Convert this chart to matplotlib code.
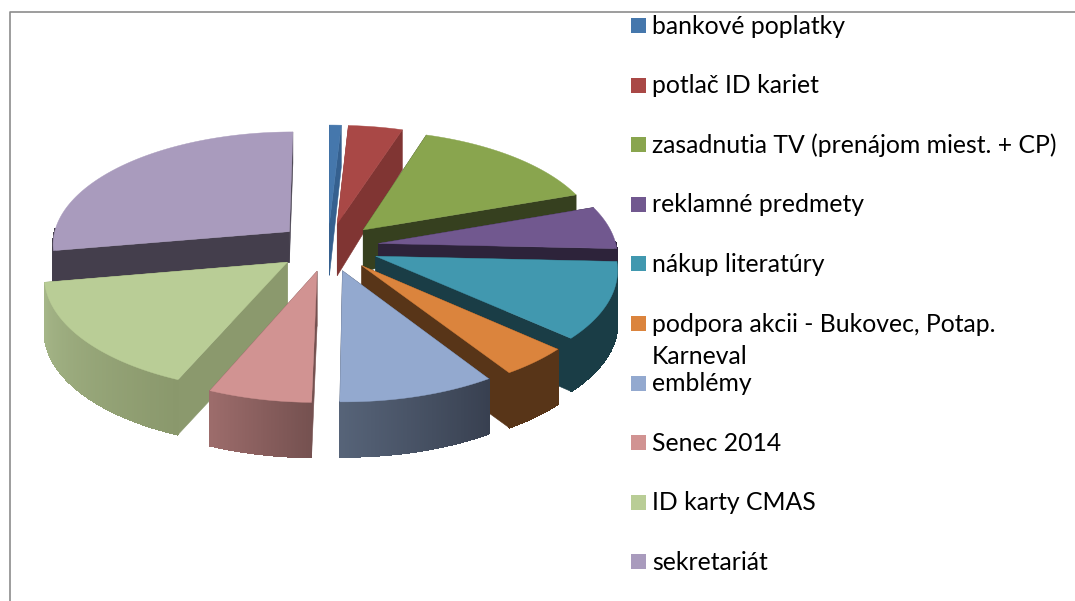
import numpy as np
import matplotlib
matplotlib.use('Agg')
import matplotlib.pyplot as plt
from matplotlib.colors import to_rgb
from matplotlib.patches import Polygon, Rectangle

# Data (percent)
kategorie = ['bankové poplatky', 'potlač ID kariet', 'zasadnutia TV (prenájom miest. + CP)',
             'reklamné predmety', 'nákup literatúry', 'podpora akcii - Bukovec, Potap.\nKarneval',
             'emblémy', 'Senec 2014', 'ID karty CMAS', 'sekretariát']
hodnoty = [0.9, 4.1, 14.6, 6.1, 10.9, 4.2, 9.4, 6.2, 15.8, 27.7]

# Styles per slice
farby = ['#4577AC', '#A94846', '#89A54E', '#71588F', '#4198AF',
         '#DB843D', '#93A9CF', '#D19392', '#B9CD96', '#A99BBD']
farby_steny = ['#35608F', '#803533', '#36401F', '#2D233A', '#1A3D46',
               '#583518', '#3A4252', '#755150', '#8B996D', '#443E4C']
farby_vonku_l = ['#35608F', '#803533', '#36401F', '#2D233A', '#1A3D46',
                 '#583518', '#566378', '#9C6C6B', '#A5B688', '#443E4C']
farby_vonku_p = ['#35608F', '#803533', '#36401F', '#2D233A', '#1A3D46',
                 '#583518', '#384050', '#755150', '#8A986C', '#443E4C']
# wall height at the tip and at the rim, the picture is not consistent here
hlbka_stred = [52, 52, 42, 25, 50, 55, 55, 55, 55, 31]
hlbka_okraj = [42, 40, 17, 20, 53, 55, 55, 55, 55, 31]

# Projection of the pie plane to pixels
cx, cy = 328, 247
rx, ry = 238, 112.7
k = 0.101
vybuch = 0.215


def premietni(X, Y):
    m = 1 + k * np.asarray(Y)
    return cx + rx * np.asarray(X) / m, cy - ry * np.asarray(Y) / m


fig = plt.figure(figsize=(10.75, 6.01), dpi=100)
ax = fig.add_axes([0, 0, 1, 1])
ax.set_xlim(0, 1075)
ax.set_ylim(601, 0)
ax.axis('off')

# Frame of the pasted chart
ax.plot([9.5, 9.5, 1075], [601, 11.5, 11.5], color='#8C8C8C', lw=1.2)

uhly = np.cumsum([0] + hodnoty) / sum(hodnoty) * 2 * np.pi
stredy = (uhly[:-1] + uhly[1:]) / 2

# Paint from the back to the front
poradie = np.argsort(-np.cos(stredy))
for z, i in enumerate(poradie):
    a = uhly[i]
    b = uhly[i + 1]
    ox = vybuch * np.sin(stredy[i])
    oy = vybuch * np.cos(stredy[i])
    t = np.linspace(a, b, 80)
    x, y = premietni(ox + np.sin(t), oy + np.cos(t))
    tx, ty = premietni(ox, oy)
    ds = hlbka_stred[i]
    dr = hlbka_okraj[i]

    # radial walls
    for j in [0, -1]:
        stena = [(tx, ty), (x[j], y[j]), (x[j], y[j] + dr), (tx, ty + ds)]
        ax.add_patch(Polygon(stena, closed=True, fc=farby_steny[i], ec=farby_steny[i],
                             lw=0.4, zorder=2 + z * 3))

    # outer wall, only the part turned to the viewer
    c1 = np.array(to_rgb(farby_vonku_l[i]))
    c2 = np.array(to_rgb(farby_vonku_p[i]))
    for j in range(len(t) - 1):
        if np.cos(t[j]) > 0.02:
            continue
        # t grows clockwise, on the front that means going right to left
        s = 1 - j / (len(t) - 2)
        c = c1 + (c2 - c1) * s
        kus = [(x[j], y[j]), (x[j + 1], y[j + 1]), (x[j + 1], y[j + 1] + dr), (x[j], y[j] + dr)]
        ax.add_patch(Polygon(kus, closed=True, fc=c, ec=c, lw=0.6, antialiased=False,
                             zorder=3 + z * 3))

    # top face
    vrch = [(tx, ty)] + list(zip(x, y))
    ax.add_patch(Polygon(vrch, closed=True, fc=farby[i], ec=farby[i], lw=0.3, zorder=4 + z * 3))

# Legend, typed out because of the wrapped row
for i, nazov in enumerate(kategorie):
    yy = 26 + 59.6 * i
    ax.add_patch(Rectangle((631, yy - 8), 15, 15, fc=farby[i], ec='none', zorder=100))
    for r, riadok in enumerate(nazov.split('\n')):
        ax.text(652, yy + 33 * r, riadok, family=['Lato', 'DejaVu Sans'], fontsize=17.8,
                color='#000000', va='center', zorder=100)

fig.savefig('out.png', dpi=100)
